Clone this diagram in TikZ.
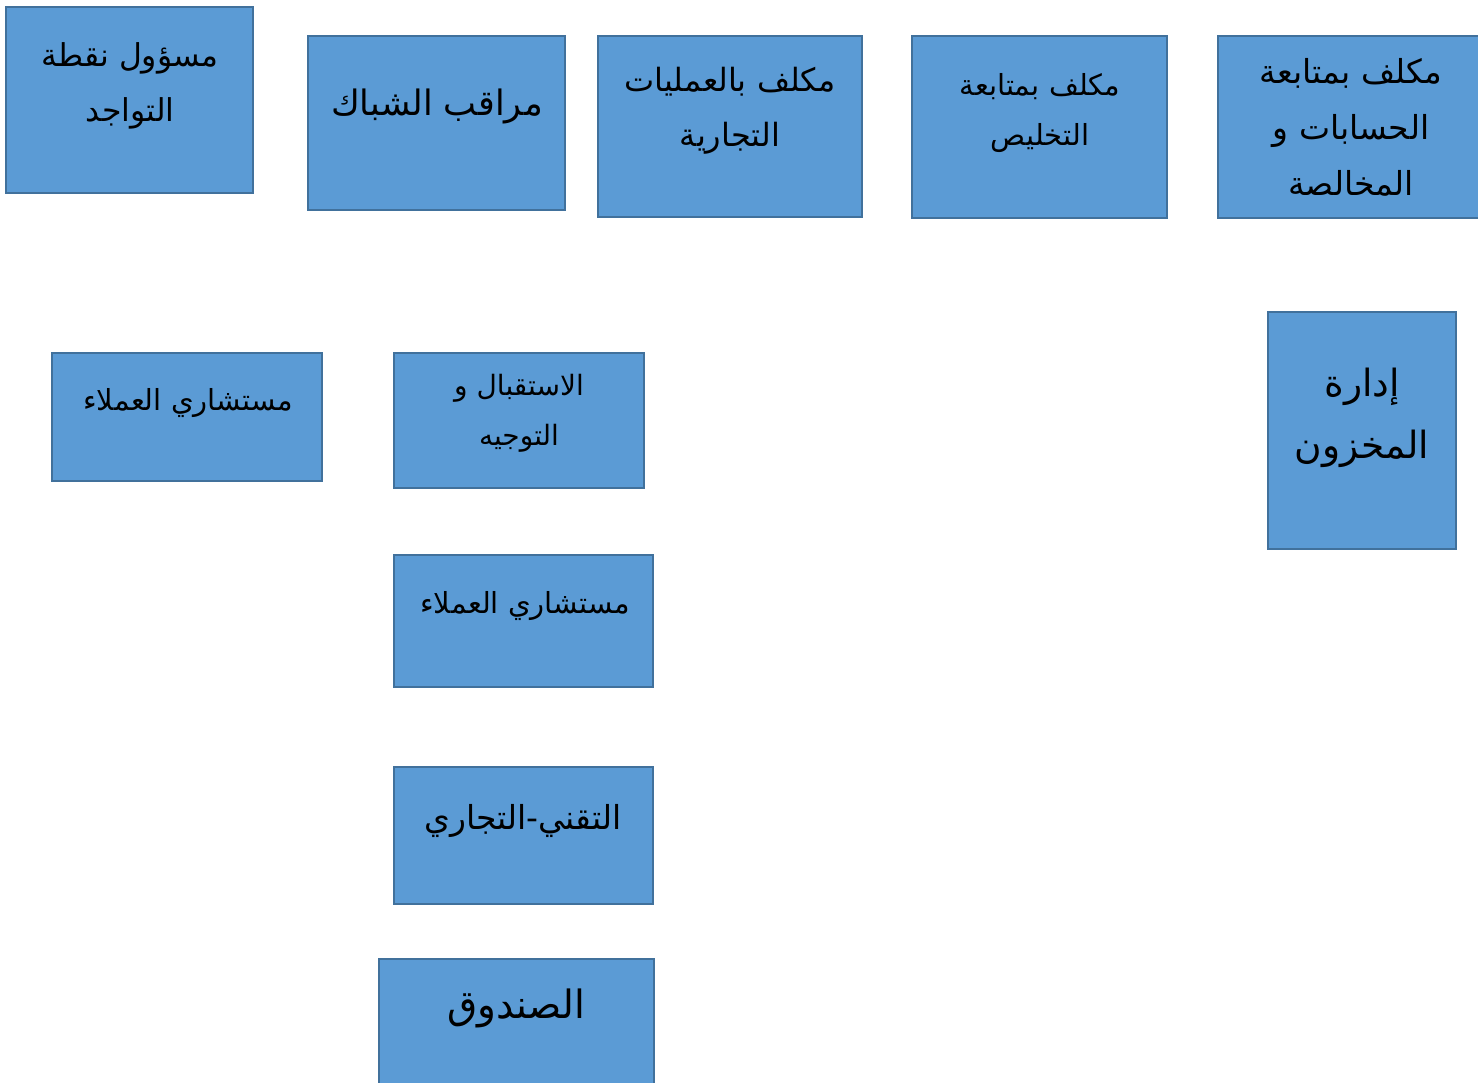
\documentclass[tikz,border=0pt]{standalone}
\usepackage{fontspec}
\newfontfamily\arabicfont[Script=Arabic]{DejaVu Sans}
\TeXXeTstate=1
\newcommand{\AR}[1]{\beginR #1\endR}
\begin{document}
\begin{tikzpicture}[x=1pt,y=-1pt,
  boxst/.style={draw=boxline, fill=boxfill, line width=2pt, inner sep=0pt},
  lab/.style={font=\arabicfont, text=black, align=center, inner sep=0pt, anchor=center}]
\definecolor{boxfill}{HTML}{5B9BD5}
\definecolor{boxline}{HTML}{41719C}
\useasboundingbox (0,0) rectangle (1478,1083);
% top row
\node[boxst, minimum width=247pt, minimum height=186pt] (b1) at (129.5,100) {};
\node[lab, font=\arabicfont\fontsize{31.5}{55}\selectfont] (t1) at (130,86) {\AR{مسؤول نقطة}\\\AR{التواجد}};
\node[boxst, minimum width=257pt, minimum height=174pt] (b2) at (436.5,123) {};
\node[lab, font=\arabicfont\fontsize{35}{55}\selectfont] (t2) at (437,106) {\AR{مراقب الشباك}};
\node[boxst, minimum width=264pt, minimum height=181pt] (b3) at (730,126.5) {};
\node[lab, font=\arabicfont\fontsize{32}{55}\selectfont] (t3) at (730,111) {\AR{مكلف بالعمليات}\\\AR{التجارية}};
\node[boxst, minimum width=255pt, minimum height=182pt] (b4) at (1039.5,127) {};
\node[lab, font=\arabicfont\fontsize{29}{50}\selectfont] (t4) at (1040,113) {\AR{مكلف بمتابعة}\\\AR{التخليص}};
\node[boxst, minimum width=264pt, minimum height=182pt] (b5) at (1350,127) {};
\node[lab, font=\arabicfont\fontsize{33}{56}\selectfont] (t5) at (1351,127) {\AR{مكلف بمتابعة}\\\AR{الحسابات و}\\\AR{المخالصة}};
% right
\node[boxst, minimum width=188pt, minimum height=237pt] (b6) at (1362,430.5) {};
\node[lab, font=\arabicfont\fontsize{37.5}{62}\selectfont] (t6) at (1362,418) {\AR{إدارة}\\\AR{المخزون}};
% middle
\node[boxst, minimum width=270pt, minimum height=128pt] (b7) at (187,417) {};
\node[lab, font=\arabicfont\fontsize{29}{50}\selectfont] (t7) at (188,403) {\AR{مستشاري العملاء}};
\node[boxst, minimum width=250pt, minimum height=135pt] (b8) at (519,420.5) {};
\node[lab, font=\arabicfont\fontsize{28}{50}\selectfont] (t8) at (519,413) {\AR{الاستقبال و}\\\AR{التوجيه}};
\node[boxst, minimum width=259pt, minimum height=132pt] (b9) at (523.5,621) {};
\node[lab, font=\arabicfont\fontsize{29}{50}\selectfont] (t9) at (525,606) {\AR{مستشاري العملاء}};
\node[boxst, minimum width=259pt, minimum height=137pt] (b10) at (523.5,835.5) {};
\node[lab, font=\arabicfont\fontsize{33}{55}\selectfont] (t10) at (523,821) {\AR{التقني-التجاري}};
\node[boxst, minimum width=275pt, minimum height=140pt] (b11) at (516.5,1029) {};
\node[lab, font=\arabicfont\fontsize{39}{60}\selectfont] (t11) at (516,1008) {\AR{الصندوق}};
\end{tikzpicture}
\end{document}
